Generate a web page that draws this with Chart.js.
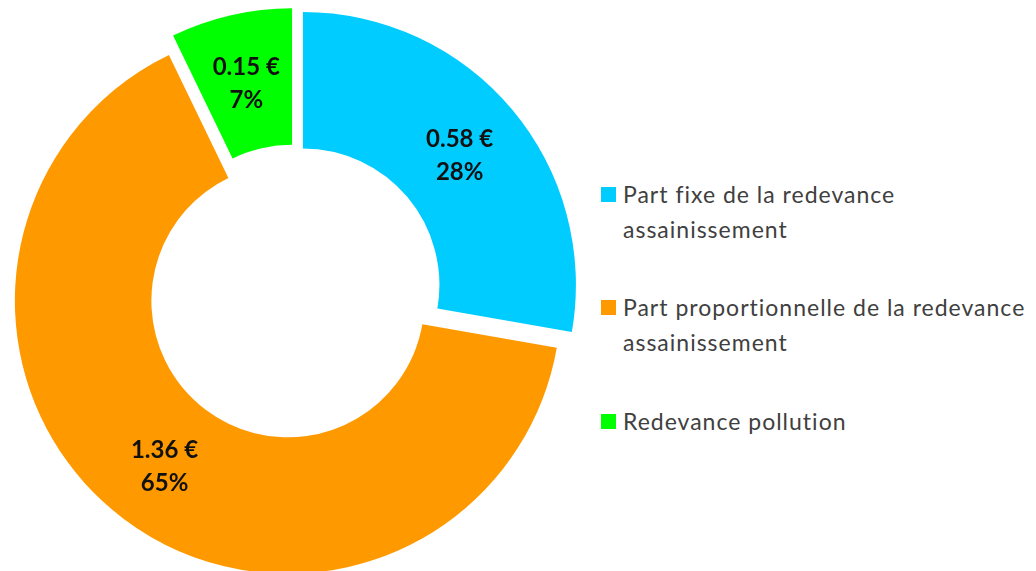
<!DOCTYPE html>
<html>
<head>
<meta charset="utf-8">
<script src="https://cdn.jsdelivr.net/npm/chart.js@4/dist/chart.umd.min.js"></script>
<style>
  html, body { margin: 0; padding: 0; background: #fff; overflow: hidden; }
  #wrap { position: relative; width: 1036px; height: 571px; }
  #chart_redevance { position: absolute; left: 0; top: 0; }
  .leg-item { position: absolute; left: 601px; font-family: Lato, sans-serif; font-size: 23px;
              letter-spacing: 1px; line-height: 35px; color: #404040; white-space: nowrap; }
  .leg-box { position: absolute; left: 0; top: 10px; width: 15px; height: 15px; }
  .leg-text { margin-left: 22px; }
</style>
</head>
<body>
<div id="wrap">
  <canvas id="chart_redevance" width="589" height="584"></canvas>
  <div id="legend-div"></div>
</div>
<script>
var labels = ['Part fixe de la redevance assainissement',
              'Part proportionnelle de la redevance assainissement',
              'Redevance pollution'];
var legend_lines = [['Part fixe de la redevance', 'assainissement'],
                    ['Part proportionnelle de la redevance', 'assainissement'],
                    ['Redevance pollution']];
var values = [0.58, 1.36, 0.15];
var colors = ['#00ccff', '#ff9900', '#00ff00'];
var legend_tops = [177, 290, 404];
var explode = 11; // shift of each piece away from the centre, px
var chart;

// chart.js "offset" also grows the radius of big pieces, so move the arcs here instead
var explodeArcs = {
  id: 'explodeArcs',
  afterDatasetUpdate: function (c, args) {
    args.meta.data.forEach(function (arc) {
      var mid = (arc.startAngle + arc.endAngle) / 2;
      arc.x += Math.cos(mid) * explode;
      arc.y += Math.sin(mid) * explode;
    });
  }
};

// labels "0.58 €" / "28%" drawn in the middle of each ring piece
var sliceLabels = {
  id: 'sliceLabels',
  afterDatasetsDraw: function (c) {
    var ctx = c.ctx;
    var meta = c.getDatasetMeta(0);
    var total = values.reduce(function (a, b) { return a + b; }, 0);
    ctx.save();
    ctx.font = 'bold 24px Lato, sans-serif';
    ctx.fillStyle = '#111';
    ctx.textAlign = 'center';
    ctx.textBaseline = 'middle';
    meta.data.forEach(function (arc, i) {
      var mid = (arc.startAngle + arc.endAngle) / 2;
      var r = (arc.innerRadius + arc.outerRadius) / 2;
      var x = arc.x + Math.cos(mid) * r;
      var y = arc.y + Math.sin(mid) * r;
      ctx.fillText(values[i].toFixed(2) + ' €', x, y - 14);
      ctx.fillText(Math.round(values[i] / total * 100) + '%', x, y + 19);
    });
    ctx.restore();
  }
};

function make_chart() {
  var ctx = document.getElementById('chart_redevance').getContext('2d');
  chart = new Chart(ctx, {
    type: 'doughnut',
    data: {
      labels: labels,
      datasets: [{
        data: values,
        backgroundColor: colors,
        borderWidth: 0,
        hoverOffset: 0
      }]
    },
    options: {
      responsive: false,
      animation: false,
      radius: 273,
      cutout: '50%',
      layout: { padding: 0 },
      events: [],
      plugins: {
        legend: { display: false },
        tooltip: { enabled: false }
      }
    },
    plugins: [explodeArcs, sliceLabels]
  });
}

function make_legend() {
  var div = document.getElementById('legend-div');
  for (var i = 0; i < labels.length; i++) {
    var item = document.createElement('div');
    item.className = 'leg-item';
    item.style.top = legend_tops[i] + 'px';
    item.innerHTML = '<span class="leg-box" style="background:' + colors[i] + '"></span>' +
      '<div class="leg-text">' + legend_lines[i].join('<br>') + '</div>';
    div.appendChild(item);
  }
}

make_chart();
make_legend();
</script>
</body>
</html>
